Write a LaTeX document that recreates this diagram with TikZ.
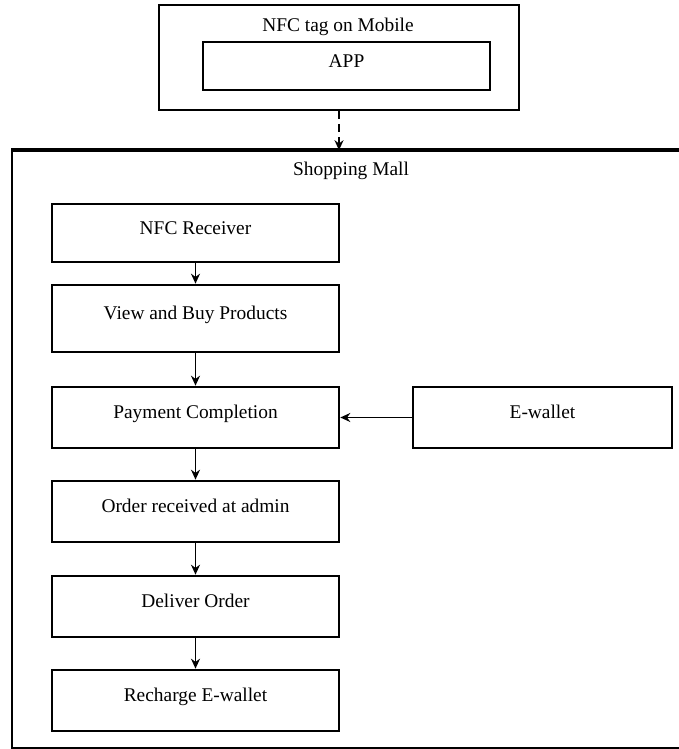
\documentclass[tikz,border=0pt]{standalone}
\usepackage{fontspec}
\setmainfont{Liberation Serif}
\usetikzlibrary{positioning, arrows.meta}

\tikzset{
    stepbox/.style={draw, line width=1.3pt, minimum width=143.5pt, minimum height=30.5pt,
        inner sep=0pt, text height=6.4pt, text depth=5pt},
    flow/.style={-{Stealth[length=5pt, width=4.5pt]}, line width=0.9pt},
}

\begin{document}
\begin{tikzpicture}[x=0.5pt, y=-0.5pt, font=\fontsize{9.7}{11.6}\selectfont]
        \useasboundingbox (0,0) rectangle (679,749);

        % mobile side
        \node[draw, line width=1pt, minimum width=180pt, minimum height=52.5pt] (mobile) at (339,57.5) {};
        \node[anchor=base] (mobiletitle) at (338,31.5) {NFC tag on Mobile};
        \node[stepbox, minimum height=24pt] (app) at (346.5,66) {APP};

        % shopping mall frame
        \node[draw, line width=0.8pt, minimum width=339pt, minimum height=298.5pt] (mall) at (351,449.5) {};
        \draw[line width=1.8pt] (mall.north west) -- (mall.north east);
        \node[anchor=base] (malltitle) at (351,175) {Shopping Mall};

        \node[stepbox, minimum height=29pt] (receiver) at (195.5,233) {NFC Receiver};
        \node[stepbox, minimum height=33.5pt, below=10.2pt of receiver] (products) {View and Buy Products};
        \node[stepbox, below=16.2pt of products] (payment) {Payment Completion};
        \node[stepbox, minimum width=129.5pt, right=35.7pt of payment] (ewallet) {E-wallet};
        \node[stepbox, below=15.2pt of payment] (order) {Order received at admin};
        \node[stepbox, below=15.7pt of order] (deliver) {Deliver Order};
        \node[stepbox, below=15.2pt of deliver] (recharge) {Recharge E-wallet};

        \draw[flow, line width=1.3pt, dash pattern=on 4pt off 2.5pt] (mobile.south) -- (mobile.south |- mall.north);
        \draw[flow]
            (receiver) edge (products)
            (products) edge (payment)
            (ewallet) edge (payment)
            (payment) edge (order)
            (order) edge (deliver)
            (deliver) edge (recharge)
            ;
    \end{tikzpicture}
\end{document}
